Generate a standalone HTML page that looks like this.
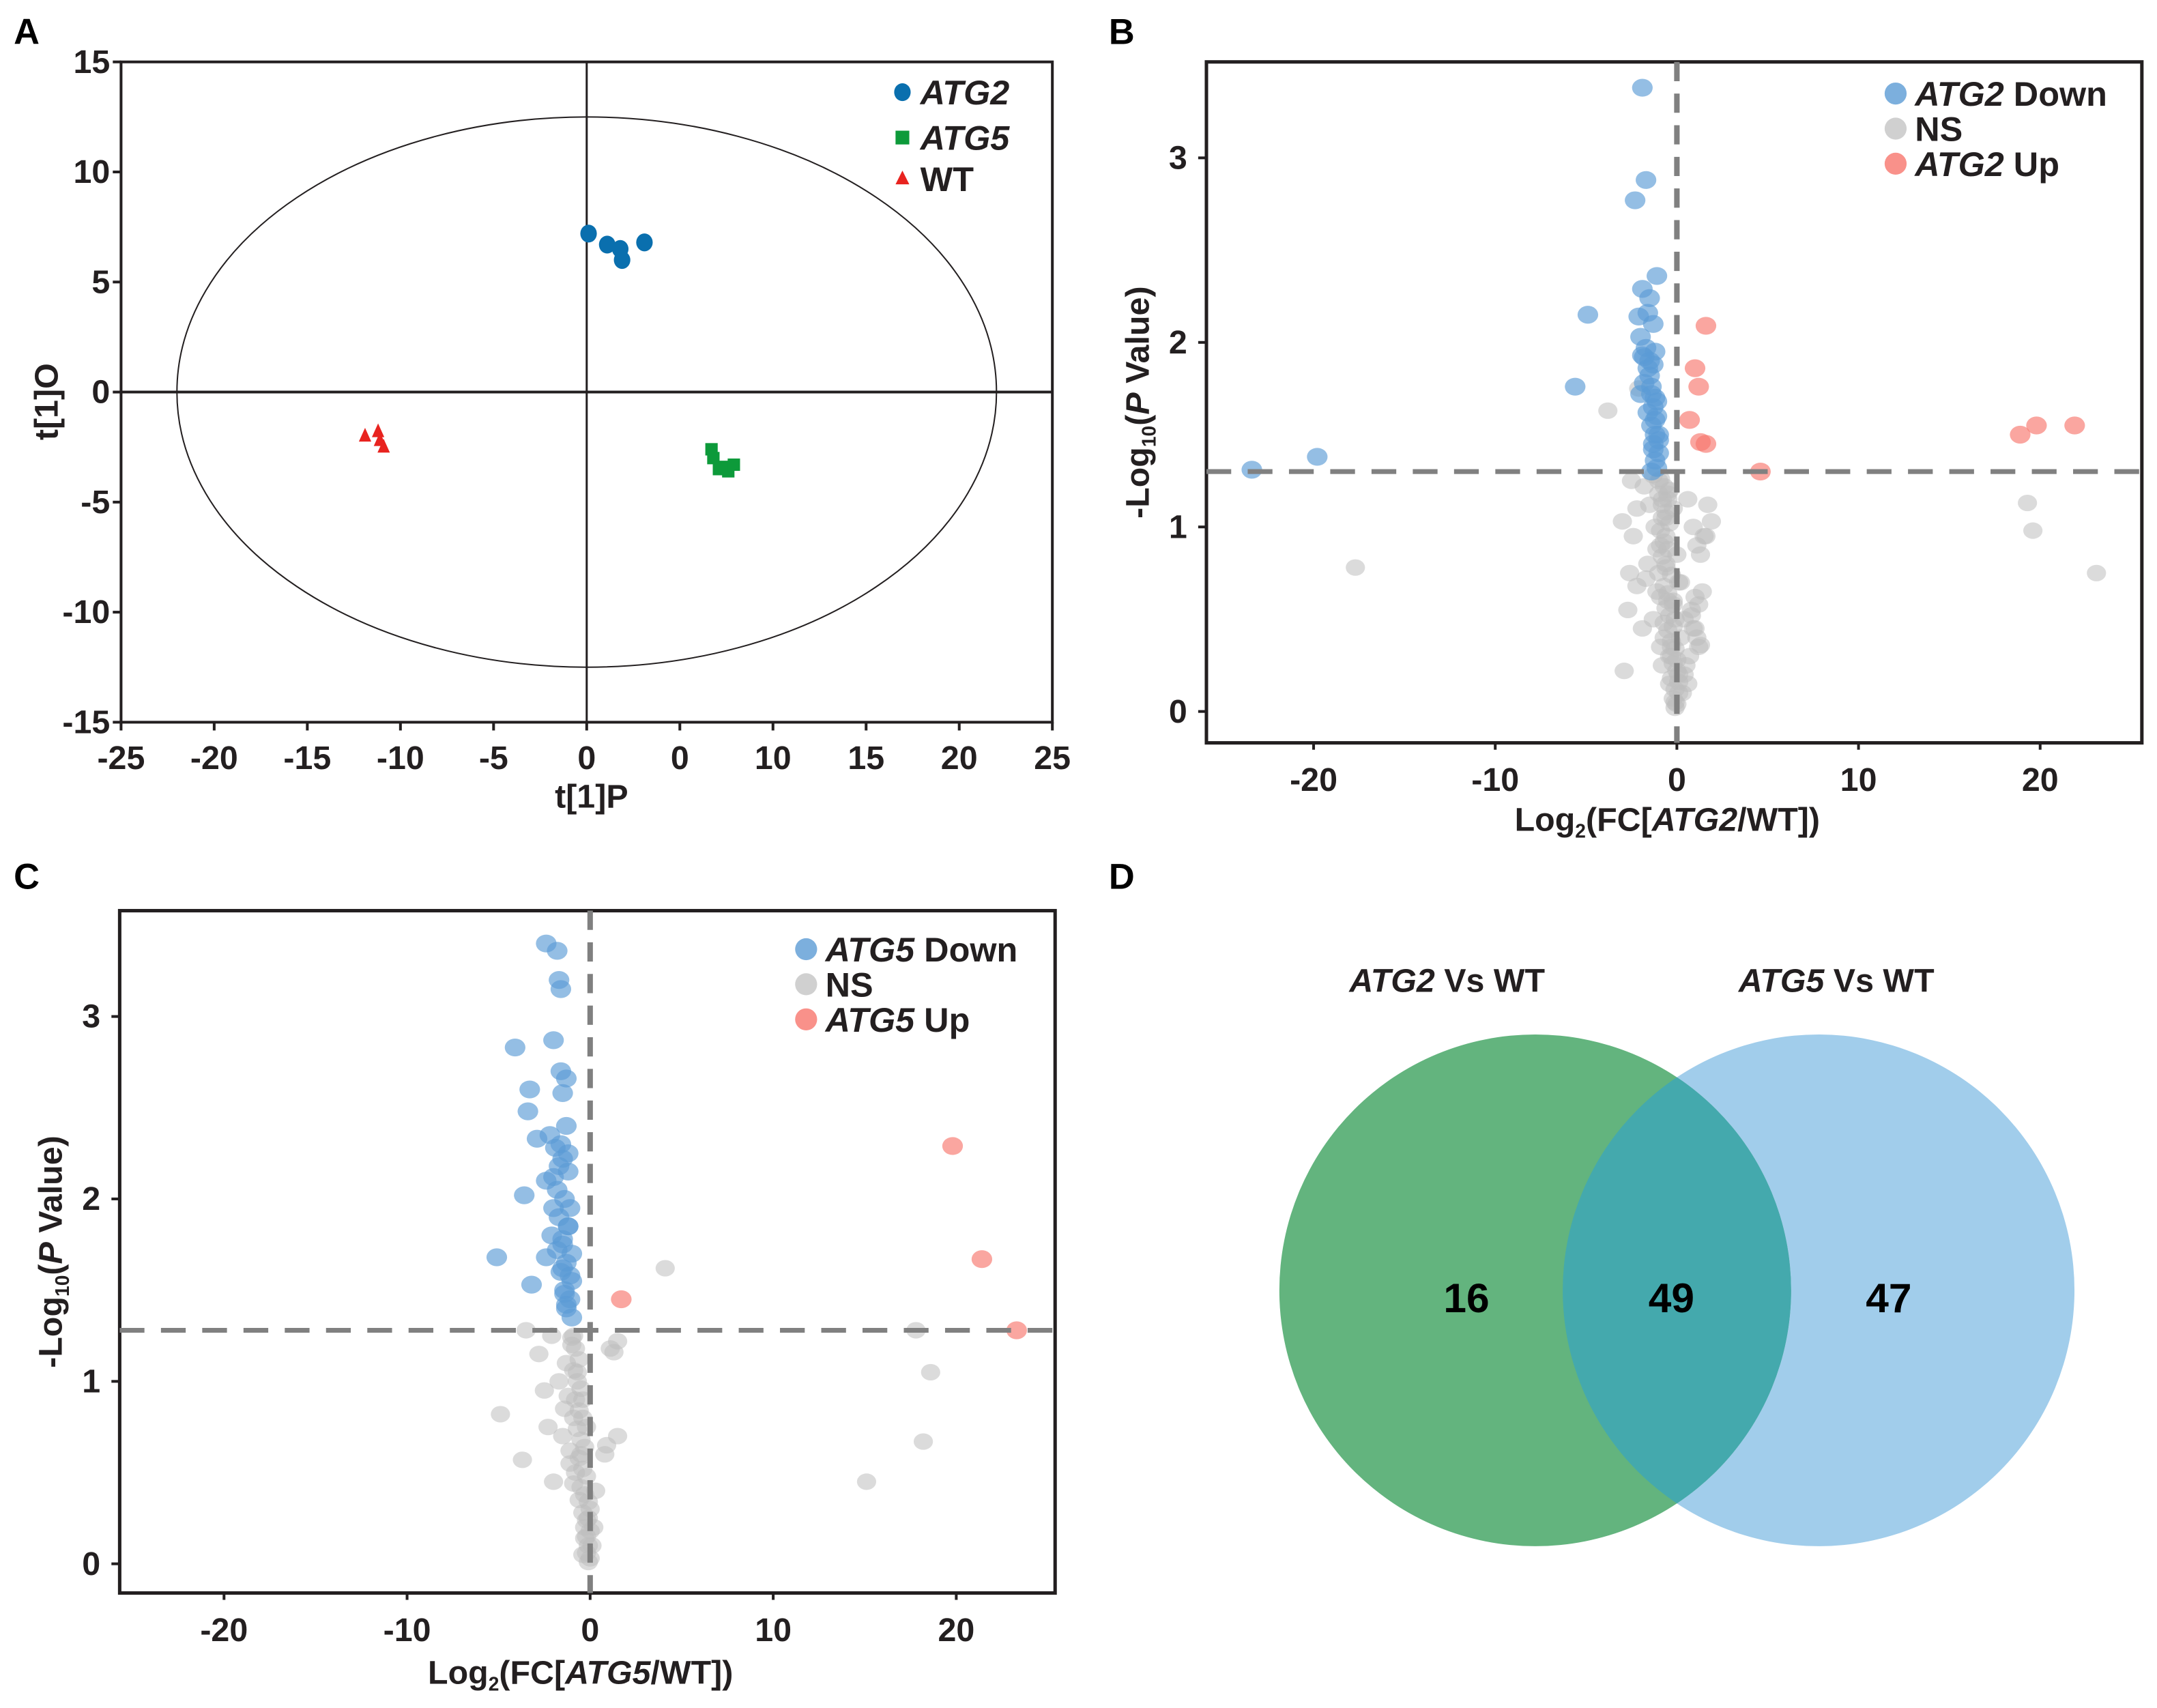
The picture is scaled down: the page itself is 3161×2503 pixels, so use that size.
<!DOCTYPE html>
<html><head><meta charset="utf-8"><style>
html,body{margin:0;padding:0;background:#fff}
svg{display:block;font-family:"Liberation Sans",Arial,sans-serif}
</style></head><body>
<svg id="fig" width="3161" height="2503" viewBox="0 0 1568 1241.6" xmlns="http://www.w3.org/2000/svg">
<g id="pA"></g>
<g id="pB"></g>
<g id="pC"></g>
<g id="pD"></g>
</svg>
<script>
// ---- Panel A data ----
const aTicksX=[-25,-20,-15,-10,-5,0,5,10,15,20,25];
const aTickLabelsX=["-25","-20","-15","-10","-5","0","0","10","15","20","25"];
const aTicksY=[15,10,5,0,-5,-10,-15];
const atg2X=[0.1,1.1,1.8,1.9,3.1];
const atg2Y=[7.2,6.7,6.5,6.0,6.8];
const atg5X=[6.7,6.8,7.3,7.6,7.9,7.1];
const atg5Y=[-2.6,-3.0,-3.4,-3.6,-3.3,-3.5];
const wtX=[-11.9,-11.2,-11.1,-10.9];
const wtY=[-2.0,-1.8,-2.2,-2.5];
// ---- Panel B data ----
const bTicksX=[-20,-10,0,10,20];
const bTicksY=[0,1,2,3];
const bDownX=[-1.9,-1.7,-2.3,-1.1,-1.9,-1.5,-4.9,-2.1,-1.6,-1.3,-2.0,-1.7,-1.2,-1.9,-1.5,-1.3,-1.8,-1.4,-2.0,-1.2,-5.6,-1.3,-1.1,-1.4,-1.2,-1.3,-1.0,-1.2,-1.1,-19.8,-23.4,-1.5,-1.0,-1.6,-1.4,-1.2,-1.0,-1.3,-1.1,-1.4,-1.6,-1.8];
const bDownY=[3.38,2.88,2.77,2.36,2.29,2.24,2.15,2.14,2.16,2.10,2.03,1.97,1.95,1.93,1.90,1.88,1.78,1.76,1.72,1.70,1.76,1.65,1.60,1.55,1.50,1.45,1.40,1.36,1.32,1.38,1.31,1.82,1.50,1.62,1.30,1.58,1.47,1.42,1.68,1.72,1.86,1.92];
const bUpX=[1.6,1.0,1.2,0.7,1.3,1.6,4.6,18.9,19.8,21.9];
const bUpY=[2.09,1.86,1.76,1.58,1.46,1.45,1.30,1.50,1.55,1.55];
const bNsX=[-17.7,-3.8,19.3,19.6,23.1,-2.1,-2.5,-2.2,-1.8,-1.3,-1.0,-0.8,-0.6,-0.4,-0.2,0.0,0.2,-0.5,-0.9,-1.2,-1.6,-2.4,-2.6,-3.0,-2.7,-1.9,-1.1,-0.7,-0.3,0.1,0.3,0.4,0.6,0.9,1.1,1.3,1.5,1.7,0.8,1.0,1.4,1.2,0.7,0.5,-0.1,-0.4,-0.8,-1.3,-1.7,-2.2,-2.9,-0.6,-0.2,0.2,0.4,-0.3,-0.1,0.1,-0.5,-1.0,-1.5,-0.9,0.6,1.6,1.9,
 -0.9,-0.7,-0.5,-0.8,-0.6,-0.4,-0.9,-0.7,-0.5,-0.8,-0.6,-0.3,-0.7,-0.5,-0.2,-0.6,-0.4,-0.2,-0.5,-0.3,-0.1,-0.4,-0.2,0.0,-0.3,-0.1,0.1,-0.2,0.0,-0.1,0.1,0.0,-0.8,-0.6,-1.0,-0.9,-0.7,-1.1,1.0,1.2,0.9,1.1,0.8,1.3];
const bNsY=[0.78,1.63,1.13,0.98,0.75,1.75,1.25,1.10,1.22,1.28,1.18,1.05,0.95,1.20,1.10,0.85,0.70,0.60,0.90,1.00,0.80,0.95,0.75,1.03,0.55,0.45,0.65,0.40,0.30,0.20,0.10,0.50,1.15,1.00,0.90,0.85,0.95,1.12,0.55,0.45,0.65,0.35,0.30,0.25,0.05,0.15,0.25,0.50,0.72,0.68,0.22,0.80,0.60,0.40,0.20,0.35,0.50,0.70,1.15,1.25,1.12,0.35,0.15,0.95,1.03,
 1.26,1.22,1.18,1.12,1.08,1.02,0.98,0.92,0.88,0.84,0.78,0.74,0.68,0.64,0.58,0.56,0.52,0.46,0.44,0.38,0.34,0.30,0.26,0.22,0.18,0.12,0.10,0.07,0.04,0.02,0.16,0.28,1.15,1.05,0.75,0.62,0.48,0.88,0.62,0.58,0.45,0.40,0.52,0.36];
// ---- Panel C data ----
const cTicksX=[-20,-10,0,10,20];
const cTicksY=[0,1,2,3];
const cDownX=[-2.4,-1.8,-1.7,-1.6,-2.0,-4.1,-1.6,-1.3,-3.3,-1.5,-3.4,-1.3,-2.9,-2.2,-1.9,-1.5,-1.2,-2.4,-1.8,-1.4,-1.1,-3.6,-1.7,-1.2,-2.1,-1.5,-1.0,-1.8,-1.3,-5.1,-2.4,-1.6,-1.0,-3.2,-1.4,-1.1,-1.3,-1.0,-1.2,-1.6,-2.0,-1.5,-1.4,-1.7,-1.2,-2.0,-1.5,-1.1,-1.3];
const cDownY=[3.40,3.36,3.20,3.15,2.87,2.83,2.70,2.66,2.60,2.58,2.48,2.40,2.33,2.35,2.28,2.22,2.15,2.10,2.05,2.00,1.95,2.02,1.90,1.85,1.80,1.75,1.70,1.72,1.65,1.68,1.68,1.60,1.55,1.53,1.50,1.45,1.40,1.35,1.85,2.30,1.95,1.62,1.48,2.18,2.25,2.12,1.78,1.58,1.42];
const cUpX=[1.7,19.8,21.4,23.3];
const cUpY=[1.45,2.29,1.67,1.28];
const cNsX=[-4.9,-3.7,4.1,-3.5,17.8,18.6,18.2,15.1,1.3,1.5,0.9,-1.0,-0.7,-0.4,-0.2,0.0,-0.5,-0.9,-1.3,-1.7,-2.1,-2.5,-1.5,-0.8,-0.3,0.1,0.3,-0.6,-1.1,-2.0,-2.8,0.8,1.5,-0.2,-0.4,-0.1,0.2,-1.4,-2.3,-0.9,1.1,
 -1.0,-0.8,-0.6,-0.9,-0.7,-0.5,-0.8,-0.6,-0.4,-0.7,-0.5,-0.3,-0.6,-0.4,-0.2,-0.5,-0.3,-0.1,-0.4,-0.2,0.0,-0.3,-0.1,-0.2,0.0,-0.1,-1.2,-1.1,-0.9];
const cNsY=[0.82,0.57,1.62,1.28,1.28,1.05,0.67,0.45,1.16,1.22,0.65,1.20,1.05,0.90,0.75,0.30,0.60,0.80,1.10,1.00,1.25,0.95,0.70,0.50,0.20,0.10,0.40,0.35,0.55,0.45,1.15,0.60,0.70,0.15,0.05,0.25,0.20,0.85,0.75,1.25,1.18,
 1.24,1.18,1.12,1.06,1.00,0.96,0.90,0.84,0.80,0.74,0.68,0.64,0.58,0.52,0.48,0.42,0.38,0.34,0.28,0.24,0.18,0.14,0.10,0.06,0.03,0.01,0.92,0.62,0.44];
// ---- Panel D data ----
const vennLabels=["16","49","47"];

const NS="http://www.w3.org/2000/svg";
function mk(parent,tag,attrs,text){const e=document.createElementNS(NS,tag);for(const k in attrs)e.setAttribute(k,attrs[k]);if(text!==undefined)e.textContent=text;parent.appendChild(e);return e;}

// ===== Panel A =====
(function(){
const g=document.getElementById('pA');
const L=88,R=765,T=45,B=525;
const sx=v=>L+(v+25)/50*(R-L), sy=v=>T+(15-v)/30*(B-T);
let t=mk(g,'text',{x:10,y:32,'font-size':26,'font-weight':'bold'},'A');


let r=mk(g,'rect',{x:L,y:T,width:R-L,height:B-T,fill:'none',stroke:'#231f20','stroke-width':2});


let el=mk(g,'ellipse',{cx:sx(0),cy:sy(0),rx:sx(22)-sx(0),ry:sy(0)-sy(12.5),fill:'none',stroke:'#231f20','stroke-width':1});


let l1=mk(g,'line',{x1:sx(0),y1:T,x2:sx(0),y2:B,stroke:'#231f20','stroke-width':1.5});


let l2=mk(g,'line',{x1:L,y1:sy(0),x2:R,y2:sy(0),stroke:'#231f20','stroke-width':2});


aTicksX.forEach((v,i)=>{
  const tk=mk(g,'line',{x1:sx(v),y1:B,x2:sx(v),y2:B+6,stroke:'#231f20','stroke-width':2});
  
  
  const tl=mk(g,'text',{x:sx(v),y:B+34,'text-anchor':'middle','font-size':24,'font-weight':'bold',fill:'#231f20'},aTickLabelsX[i]);
  
  
});
aTicksY.forEach(v=>{
  const tk=mk(g,'line',{x1:L-6,y1:sy(v),x2:L,y2:sy(v),stroke:'#231f20','stroke-width':2});
  
  
  const tl=mk(g,'text',{x:L-8,y:sy(v)+8,'text-anchor':'end','font-size':24,'font-weight':'bold',fill:'#231f20'},String(v));
  
  
});
let xt=mk(g,'text',{x:430,y:587,'text-anchor':'middle','font-size':24,'font-weight':'bold',fill:'#231f20'},'t[1]P');


let yt=mk(g,'text',{x:0,y:0,transform:'translate(42,292) rotate(-90)','text-anchor':'middle','font-size':24,'font-weight':'bold',fill:'#231f20'},'t[1]O');


atg2X.forEach((v,i)=>{const c=mk(g,'ellipse',{cx:sx(v),cy:sy(atg2Y[i]),rx:6,ry:6.5,fill:'#0a6fae'});
  
  });
atg5X.forEach((v,i)=>{const c=mk(g,'rect',{x:sx(v)-4.5,y:sy(atg5Y[i])-4.5,width:9,height:9,fill:'#0d9a3a'});
  
  });
wtX.forEach((v,i)=>{const x=sx(v),y=sy(wtY[i]);const c=mk(g,'polygon',{points:`${x},${y-6} ${x-4.5},${y+4} ${x+4.5},${y+4}`,fill:'#e8231f'});
  
  });
const lg=mk(g,'g',{});


mk(lg,'ellipse',{cx:656,cy:67,rx:6,ry:6.5,fill:'#0a6fae'});
mk(lg,'rect',{x:651,y:95,width:10,height:10,fill:'#0d9a3a'});
mk(lg,'polygon',{points:'656,124 651,134 661,134',fill:'#e8231f'});
mk(lg,'text',{x:669,y:76,'font-size':25,'font-weight':'bold','font-style':'italic',fill:'#231f20'},'ATG2');
mk(lg,'text',{x:669,y:109,'font-size':25,'font-weight':'bold','font-style':'italic',fill:'#231f20'},'ATG5');
mk(lg,'text',{x:669,y:139,'font-size':25,'font-weight':'bold',fill:'#231f20'},'WT');
})();

// ===== volcano builder =====
function volcano(gid,letter,lx,ly,box,xr,yr,ticksX,ticksY,thr,dX,dY,uX,uY,nX,nY,gene,legX,legY,xTitleY){
const g=document.getElementById(gid);
const [L,T,R,B]=box;
const sx=v=>L+(v-xr[0])/(xr[1]-xr[0])*(R-L), sy=v=>B-(v-yr[0])/(yr[1]-yr[0])*(B-T);
let t=mk(g,'text',{x:lx,y:ly,'font-size':26,'font-weight':'bold'},letter);


let r=mk(g,'rect',{x:L,y:T,width:R-L,height:B-T,fill:'none',stroke:'#231f20','stroke-width':2.5});


const pts=mk(g,'g',{});


nX.forEach((v,i)=>{const c=mk(pts,'ellipse',{cx:sx(v),cy:sy(nY[i]),rx:7,ry:6,fill:'#bdbdbd','fill-opacity':0.55});
  
  });
dX.forEach((v,i)=>{const c=mk(pts,'ellipse',{cx:sx(v),cy:sy(dY[i]),rx:7.5,ry:6.5,fill:'#5b9bd5','fill-opacity':0.65});
  
  });
uX.forEach((v,i)=>{const c=mk(pts,'ellipse',{cx:sx(v),cy:sy(uY[i]),rx:7.5,ry:6.5,fill:'#f8766d','fill-opacity':0.65});
  
  });
let v0=mk(g,'line',{x1:sx(0),y1:T,x2:sx(0),y2:B,stroke:'#808080','stroke-width':4,'stroke-dasharray':'14,9'});


let h0=mk(g,'line',{x1:L,y1:sy(thr),x2:R,y2:sy(thr),stroke:'#808080','stroke-width':3.5,'stroke-dasharray':'18,12'});


ticksX.forEach(v=>{
  const tk=mk(g,'line',{x1:sx(v),y1:B,x2:sx(v),y2:B+5,stroke:'#231f20','stroke-width':2});
  
  
  const tl=mk(g,'text',{x:sx(v),y:B+35,'text-anchor':'middle','font-size':24,'font-weight':'bold',fill:'#231f20'},String(v));
  
  
});
ticksY.forEach(v=>{
  const tk=mk(g,'line',{x1:L-6,y1:sy(v),x2:L,y2:sy(v),stroke:'#231f20','stroke-width':2});
  
  
  const tl=mk(g,'text',{x:L-14,y:sy(v)+8,'text-anchor':'end','font-size':24,'font-weight':'bold',fill:'#231f20'},String(v));
  
  
});
const xt=mk(g,'text',{x:(L+R)/2-5,y:xTitleY,'text-anchor':'middle','font-size':24,'font-weight':'bold',fill:'#231f20'});


mk(xt,'tspan',{},'Log');mk(xt,'tspan',{'font-size':14,dy:5},'2');mk(xt,'tspan',{dy:-5},'(FC[');
mk(xt,'tspan',{'font-style':'italic'},gene);mk(xt,'tspan',{},'/WT])');
const yt=mk(g,'text',{transform:`translate(${L-42},${(T+B)/2}) rotate(-90)`,'text-anchor':'middle','font-size':24,'font-weight':'bold',fill:'#231f20'});


mk(yt,'tspan',{},'-Log');mk(yt,'tspan',{'font-size':14,dy:5},'10');mk(yt,'tspan',{dy:-5},'(');
mk(yt,'tspan',{'font-style':'italic'},'P');mk(yt,'tspan',{},' Value)');
const lg=mk(g,'g',{});


const cols=['#5b9bd5','#c4c4c4','#f8766d'];
[[gene,' Down'],['','NS'],[gene,' Up']].forEach((e,i)=>{
  const y=legY+i*25.5;
  mk(lg,'circle',{cx:legX,cy:y,r:8,fill:cols[i],'fill-opacity':0.8});
  const tx=mk(lg,'text',{x:legX+14,y:y+9,'font-size':25,'font-weight':'bold',fill:'#231f20'});
  if(e[0])mk(tx,'tspan',{'font-style':'italic'},e[0]);
  mk(tx,'tspan',{},e[1]);
});
}
volcano('pB','B',806,32,[877,45,1557,540],[-25.9,25.6],[-0.17,3.52],bTicksX,bTicksY,1.3,bDownX,bDownY,bUpX,bUpY,bNsX,bNsY,'ATG2',1378,68,604);
volcano('pC','C',10,646,[87,662,767,1158],[-25.7,25.4],[-0.16,3.58],cTicksX,cTicksY,1.28,cDownX,cDownY,cUpX,cUpY,cNsX,cNsY,'ATG5',586,690,1224);

// ===== Panel D =====
(function(){
const g=document.getElementById('pD');
let t=mk(g,'text',{x:806,y:646,'font-size':26,'font-weight':'bold'},'D');


const defs=mk(g,'defs',{});
const cp=mk(defs,'clipPath',{id:'clipG'});
mk(cp,'ellipse',{cx:1116,cy:938,rx:186,ry:186});
let b=mk(g,'ellipse',{cx:1322,cy:938,rx:186,ry:186,fill:'#a1cdeb'});


let gr=mk(g,'ellipse',{cx:1116,cy:938,rx:186,ry:186,fill:'#63b47e'});


let ov=mk(g,'ellipse',{cx:1322,cy:938,rx:186,ry:186,fill:'#44a9ad','clip-path':'url(#clipG)'});


[[1066],[1215],[1373]].forEach((p,i)=>{
  const tx=mk(g,'text',{x:p[0],y:954,'text-anchor':'middle','font-size':30,'font-weight':'bold',fill:'#000'},vennLabels[i]);
  
  
});
[[1052,'ATG2'],[1335,'ATG5']].forEach(p=>{
  const tx=mk(g,'text',{x:p[0],y:721,'text-anchor':'middle','font-size':24,'font-weight':'bold',fill:'#231f20'});
  
  
  mk(tx,'tspan',{'font-style':'italic'},p[1]);mk(tx,'tspan',{},' Vs WT');
});
})();
</script>
</body></html>
